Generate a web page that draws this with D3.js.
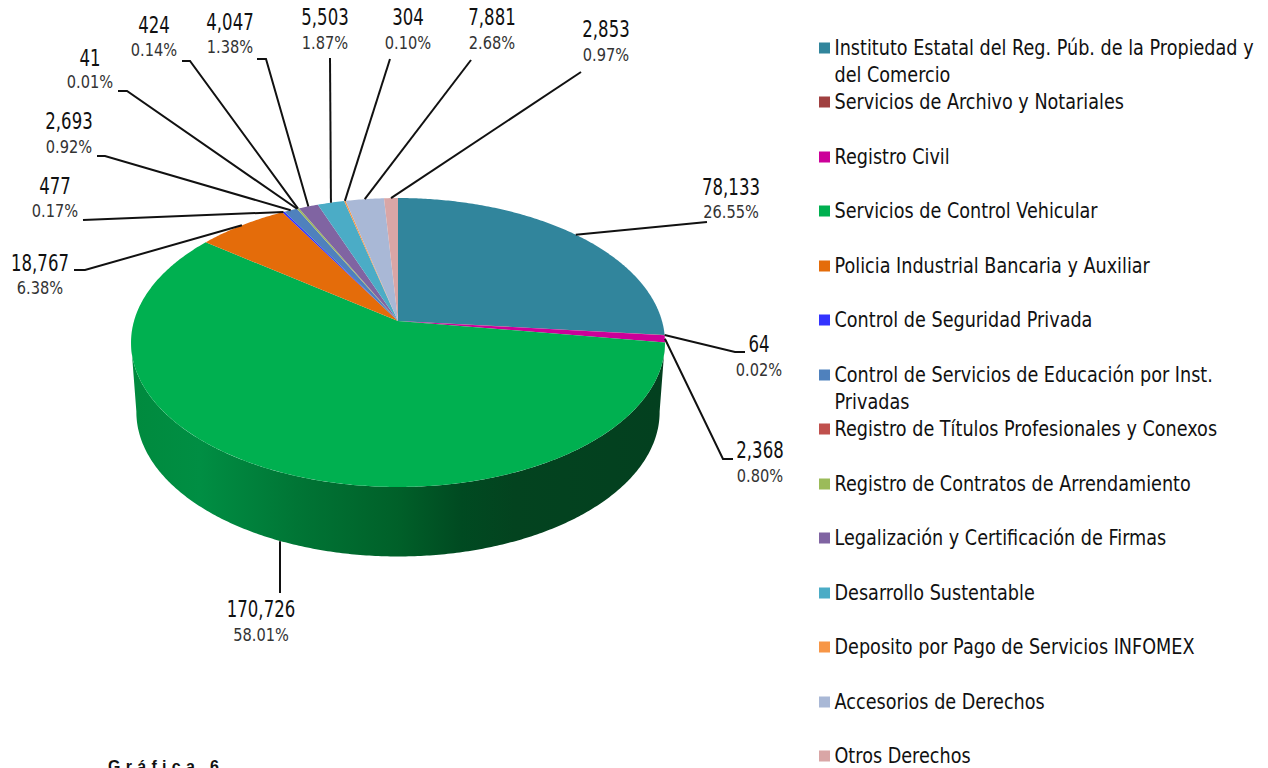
<!DOCTYPE html>
<html>
<head>
<meta charset="utf-8">
<script src="https://cdn.jsdelivr.net/npm/d3@7"></script>
<style>
    html, body { margin: 0; padding: 0; background: #fff; overflow: hidden; }
    svg { display: block; }
    .num { font-family: "DejaVu Sans", sans-serif; fill: #111; }
    .pct { font-family: "DejaVu Sans", sans-serif; fill: #333; }
    .legend-text { font-family: "DejaVu Sans", sans-serif; fill: #111; }
</style>
</head>
<body>
<div id="chart"></div>
<script>
const categories = [
    ["Instituto Estatal del Reg. Púb. de la Propiedad y", "del Comercio"],
    ["Servicios de Archivo y Notariales"],
    ["Registro Civil"],
    ["Servicios de Control Vehicular"],
    ["Policia Industrial Bancaria y Auxiliar"],
    ["Control de Seguridad Privada"],
    ["Control de Servicios de Educación por Inst.", "Privadas"],
    ["Registro de Títulos Profesionales y Conexos"],
    ["Registro de Contratos de Arrendamiento"],
    ["Legalización y Certificación de Firmas"],
    ["Desarrollo Sustentable"],
    ["Deposito por Pago de Servicios INFOMEX"],
    ["Accesorios de Derechos"],
    ["Otros Derechos"]
];
const values = [78133, 64, 2368, 170726, 18767, 477, 2693, 41, 424, 4047, 5503, 304, 7881, 2853];
const percents = [26.55, 0.02, 0.80, 58.01, 6.38, 0.17, 0.92, 0.01, 0.14, 1.38, 1.87, 0.10, 2.68, 0.97];
const colors = ["#31859C", "#A04040", "#CC0099", "#00B050", "#E46C0A", "#3333FF", "#4F81BD",
    "#C0504D", "#9BBB59", "#8064A2", "#4BACC6", "#F79646", "#A9B8D6", "#D9A6A6"];

// label layout, same order as values: [elbow x, elbow y, end x, end y, text x, number baseline, percent baseline]
const labelLayout = [
    [707, 222, 707, 222, 731, 195, 218],
    [735, 352, 745, 352, 759, 352, 376],
    [723, 459, 733, 459, 760, 458, 482],
    [280, 593, 280, 593, 261, 617, 641],
    [85, 270, 74, 270, 40, 271, 294],
    [83, 220, 83, 220, 55, 194, 217],
    [105, 156, 97, 156, 69, 129, 153],
    [127, 91, 118, 91, 90, 66, 88],
    [190, 61, 182, 61, 154, 33, 56],
    [266, 59, 257, 59, 230, 30, 53],
    [330, 58, 330, 58, 325, 25, 49],
    [390, 59, 390, 59, 408, 25, 49],
    [471, 60, 471, 60, 492, 25, 49],
    [581, 72, 581, 72, 606, 37, 61]
];
const legendRows = [48, 102, 157, 211, 266, 320, 375, 429, 484, 538, 593, 647, 702, 756];

const width = 1268;
const height = 768;
const svg = d3.select("#chart").append("svg").attr("width", width).attr("height", height);

// pie seen in perspective: unit disc -> page
const cx = 398, apexY = 321, dX = 264, a = -93.5, c = 0.1488;
const depth = 69.5, shrink = 0.98;

function rim(angle, r = 1) {
    const u = r * Math.sin(angle), v = r * Math.cos(angle);
    const w = 1 + c * v;
    return [cx + dX * u / w, (apexY + a * v) / w];
}
function rimBottom(angle) {
    const p = rim(angle);
    return [cx + (p[0] - cx) * shrink, p[1] + depth];
}

const arcs = d3.pie().value(d => d).sort(null)(values);
const line = d3.line();

function arcPoints(start, end, fn) {
    const n = Math.max(2, Math.ceil((end - start) / 0.01));
    return d3.range(n + 1).map(i => fn(start + (end - start) * i / n));
}

// side wall, only the green slice shows it
const defs = svg.append("defs");
const wallStops = [[0, "#008A3E"], [0.125, "#008E43"], [0.31, "#007535"], [0.5, "#006029"], [0.62, "#004A21"], [0.72, "#03431F"], [1, "#03401F"]];
const grad = defs.append("linearGradient").attr("id", "wall")
    .attr("gradientUnits", "userSpaceOnUse")
    .attr("x1", cx - dX).attr("x2", cx + dX).attr("y1", 0).attr("y2", 0);
grad.selectAll("stop").data(wallStops).enter().append("stop")
    .attr("offset", d => d[0]).attr("stop-color", d => d[1]);

const extreme = Math.PI / 2 + Math.asin(0.1454);
const wallPts = arcPoints(extreme, 2 * Math.PI - extreme, rim)
    .concat(arcPoints(extreme, 2 * Math.PI - extreme, rimBottom).reverse());
svg.append("path").attr("d", line(wallPts) + "Z").attr("fill", "url(#wall)");

// top face
svg.append("g").selectAll("path")
    .data(arcs)
    .enter()
    .append("path")
    .attr("d", d => line([rim(0, 0)].concat(arcPoints(d.startAngle, d.endAngle, rim))) + "Z")
    .attr("fill", (d, i) => colors[i]);

// leader lines
svg.append("g").selectAll("path")
    .data(arcs)
    .enter()
    .append("path")
    .attr("d", (d, i) => {
        const mid = (d.startAngle + d.endAngle) / 2;
        const l = labelLayout[i];
        const start = i === 3 ? [l[0], rimBottom(mid)[1]] : rim(mid);
        return line([start, [l[0], l[1]], [l[2], l[3]]]);
    })
    .attr("fill", "none")
    .attr("stroke", "#111")
    .attr("stroke-width", 2);

// value labels, glyphs squeezed sideways like the original
const fmt = d3.format(",");
const labels = svg.append("g").selectAll("g").data(values).enter().append("g");
labels.append("text").attr("class", "num")
    .attr("transform", (d, i) => `translate(${labelLayout[i][4]},${labelLayout[i][5]}) scale(0.72,1)`)
    .attr("text-anchor", "middle")
    .attr("font-size", 23)
    .text(d => fmt(d));
labels.append("text").attr("class", "pct")
    .attr("transform", (d, i) => `translate(${labelLayout[i][4]},${labelLayout[i][6]}) scale(0.86,1)`)
    .attr("text-anchor", "middle")
    .attr("font-size", 17)
    .text((d, i) => percents[i].toFixed(2) + "%");

// legend
const legend = svg.append("g").selectAll("g").data(categories).enter().append("g")
    .attr("transform", (d, i) => `translate(819,${legendRows[i]})`);
legend.append("rect")
    .attr("x", 0).attr("y", -5.5).attr("width", 11).attr("height", 11)
    .attr("fill", (d, i) => colors[i]);
legend.selectAll("text")
    .data(d => d)
    .enter()
    .append("text")
    .attr("class", "legend-text")
    .attr("transform", (d, i) => `translate(15.5,${7 + i * 27}) scale(0.84,1)`)
    .attr("font-size", 21)
    .text(d => d);

svg.append("text")
    .attr("x", 108).attr("y", 772)
    .attr("font-family", "Liberation Sans")
    .attr("font-weight", "bold")
    .attr("font-size", 16)
    .attr("letter-spacing", 5.3)
    .attr("fill", "#111")
    .text("Gráfica 6");
</script>
</body>
</html>
